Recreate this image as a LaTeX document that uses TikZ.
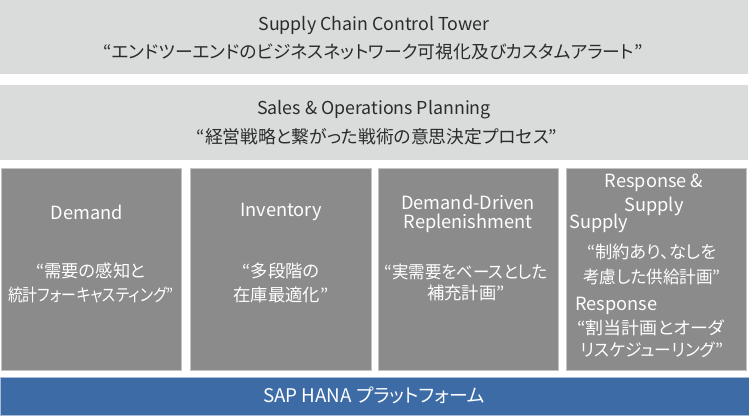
\documentclass[tikz,border=0pt]{standalone}
\usepackage{fontspec}
\setmainfont[RawFeature=+palt]{Noto Sans CJK JP}
\definecolor{bandgray}{HTML}{DADCDC}
\definecolor{boxgray}{HTML}{8B8B8B}
\definecolor{boxedge}{HTML}{C4C4C4}
\definecolor{hanablue}{HTML}{3C6BA6}
\definecolor{hanaedge}{HTML}{A9BDD6}
\definecolor{darktext}{HTML}{2B2B2B}
\tikzset{
  band/.style={rectangle, fill=bandgray, draw=none, inner sep=0, anchor=north west},
  pillar/.style={rectangle, fill=boxgray, draw=boxedge, line width=1pt, inner sep=0, anchor=north west, minimum width=180, minimum height=202},
  base/.style={rectangle, fill=hanablue, draw=hanaedge, line width=1pt, inner sep=0, anchor=north west},
  dtxt/.style={text=darktext, inner sep=0, font=\fontsize{17.8}{20}\selectfont},
  wtxt/.style={text=white, inner sep=0, font=\fontsize{17.3}{20}\selectfont},
  wlat/.style={text=white, inner sep=0, font=\fontsize{18.2}{20}\selectfont},
}
\newcommand{\sqz}[2]{\scalebox{#1}[1]{#2}}
\begin{document}
\begin{tikzpicture}[x=1pt,y=-1pt]
\useasboundingbox[fill=white] (0,0) rectangle (749,417);
% bands
\node[band, minimum width=748, minimum height=74] (sc) at (0,0) {};
\node[band, minimum width=748, minimum height=75] (sop) at (0,85) {};
% pillars
\node[pillar] (p1) at (1,168) {};
\node[pillar, minimum width=181] (p2) at (190,168) {};
\node[pillar] (p3) at (378,168) {};
\node[pillar] (p4) at (566,168) {};
% base
\node[base, minimum width=749, minimum height=38] (hana) at (0,377) {};
% top texts
\node[dtxt] (t1) at (374,25) {Supply Chain Control Tower};
\node[dtxt] (t2) at (373,52) {“エンドツーエンドのビジネスネットワーク可視化及びカスタムアラート”};
\node[dtxt] (t3) at (374,110) {Sales \& Operations Planning};
\node[dtxt] (t4) at (377,137) {“経営戦略と繋がった戦術の意思決定プロセス”};
% pillar 1
\node[wlat] (d1) at (87,212) {Demand};
\node[wtxt] (d2) at (91,271) {“需要の感知と};
\node[wtxt] (d3) at (91,295) {\sqz{0.86}{統計フォーキャスティング”}};
% pillar 2
\node[wlat] (i1) at (281,212) {Inventory};
\node[wtxt] (i2) at (281,271) {“多段階の};
\node[wtxt] (i3) at (281,295) {在庫最適化”};
% pillar 3
\node[wlat] (r1) at (468,202) {Demand-Driven};
\node[wlat] (r2) at (468,223) {Replenishment};
\node[wtxt] (r3) at (466,272) {\sqz{0.95}{“実需要をベースとした}};
\node[wtxt] (r4) at (466,293) {補充計画”};
% pillar 4
\node[wlat] (s1) at (654,183) {Response \&};
\node[wlat] (s2) at (654,206) {Supply};
\node[wlat, anchor=west] (s3) at (569,223) {Supply};
\node[wtxt] (s4) at (652,252) {“制約あり、なしを};
\node[wtxt] (s5) at (652,277) {\sqz{0.96}{考慮した供給計画”}};
\node[wlat, anchor=west] (s6) at (575,306) {Response};
\node[wtxt] (s7) at (651,328) {\sqz{1.04}{“割当計画とオーダ}};
\node[wtxt] (s8) at (652,350) {\sqz{0.97}{リスケジューリング”}};
% base text
\node[text=white, inner sep=0, font=\fontsize{18.8}{20}\selectfont] (h1) at (374,395) {SAP HANA プラットフォーム};
\end{tikzpicture}
\end{document}
